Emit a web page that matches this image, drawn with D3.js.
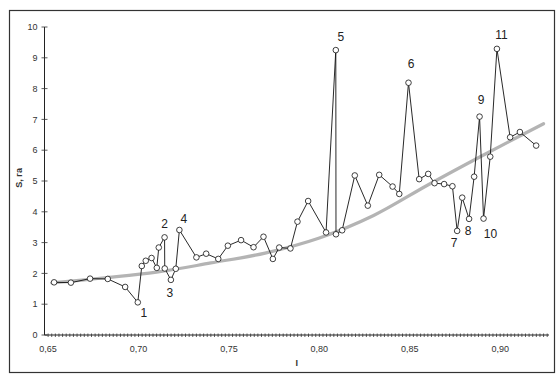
<!DOCTYPE html>
<html>
<head>
<meta charset="utf-8">
<script src="https://cdn.jsdelivr.net/npm/d3@7"></script>
<style>
  body { margin: 0; background: #fff; }
  svg { display: block; font-family: "Liberation Sans", Arial, sans-serif; }
</style>
</head>
<body>
<div id="chart"></div>
<script>
// measured series: I (x) and S, ha (y)
const xValues = [0.6533, 0.6626, 0.6732, 0.6830, 0.6926, 0.6996, 0.7018, 0.7040, 0.7072, 0.7101,
  0.7112, 0.7144, 0.7145, 0.7179, 0.7206, 0.7226, 0.7320, 0.7374, 0.7441, 0.7494,
  0.7567, 0.7636, 0.7691, 0.7743, 0.7778, 0.7840, 0.7879, 0.7938, 0.8037, 0.8091,
  0.8092, 0.8126, 0.8196, 0.8268, 0.8331, 0.8405, 0.8442, 0.8493, 0.8552, 0.8602,
  0.8637, 0.8690, 0.8736, 0.8762, 0.8790, 0.8828, 0.8856, 0.8886, 0.8908, 0.8945,
  0.8982, 0.9055, 0.9109, 0.9199];
const sValues = [1.71, 1.70, 1.83, 1.82, 1.56, 1.06, 2.24, 2.41, 2.50, 2.18,
  2.84, 3.17, 2.16, 1.79, 2.15, 3.41, 2.52, 2.64, 2.47, 2.90,
  3.08, 2.85, 3.19, 2.47, 2.84, 2.81, 3.68, 4.35, 3.33, 9.25,
  3.27, 3.40, 5.18, 4.20, 5.20, 4.82, 4.58, 8.19, 5.06, 5.23,
  4.93, 4.90, 4.83, 3.38, 4.46, 3.77, 5.14, 7.09, 3.78, 5.79,
  9.29, 6.42, 6.59, 6.15];

// trend curve
const trendX = [0.652, 0.68, 0.71, 0.74, 0.77, 0.80, 0.83, 0.86, 0.89, 0.924];
const trendS = [1.69, 1.85, 2.04, 2.34, 2.66, 3.15, 3.88, 4.87, 5.82, 6.86];

// numbered peaks: index into the series, label
const markIndex = [5, 11, 13, 15, 29, 37, 43, 45, 47, 48, 50];
const markText = ['1', '2', '3', '4', '5', '6', '7', '8', '9', '10', '11'];

const xTickValues = [0.65, 0.70, 0.75, 0.80, 0.85, 0.90];
const yTickValues = [0, 1, 2, 3, 4, 5, 6, 7, 8, 9, 10];

const W = 557, H = 376;
const svg = d3.select('#chart').append('svg').attr('width', W).attr('height', H);

// frame
svg.append('rect')
  .attr('x', 9.5).attr('y', 10.5).attr('width', 545).attr('height', 362)
  .attr('fill', 'none').attr('stroke', '#333').attr('stroke-width', 1.2);

const x = d3.scaleLinear().domain([0.648, 0.927]).range([44.5, 549]);
const y = d3.scaleLinear().domain([0, 10]).range([335, 27]);

// x axis with fine ticks
const xAxisG = svg.append('g').attr('transform', `translate(0,${y(0)})`);
xAxisG.append('line')
  .attr('x1', x(0.648)).attr('x2', x(0.927))
  .attr('stroke', '#222').attr('stroke-width', 1);
const minor = d3.range(0.650, 0.9271, 0.002);
xAxisG.selectAll('line.minor').data(minor).join('line')
  .attr('class', 'minor')
  .attr('x1', d => x(d)).attr('x2', d => x(d))
  .attr('y1', -1.5).attr('y2', 2)
  .attr('stroke', '#333').attr('stroke-width', 0.8);
xAxisG.selectAll('text').data(xTickValues).join('text')
  .attr('x', d => x(d)).attr('y', 17)
  .attr('text-anchor', 'middle')
  .attr('font-size', 9).attr('fill', '#333')
  .text(d => d3.format('.2f')(d).replace('.', ','));

// y axis
const yAxisG = svg.append('g').attr('transform', `translate(${x(0.648)},0)`);
yAxisG.append('line')
  .attr('y1', y(0)).attr('y2', y(10))
  .attr('stroke', '#222').attr('stroke-width', 1);
yAxisG.selectAll('line.tick').data(yTickValues).join('line')
  .attr('class', 'tick')
  .attr('x1', -3).attr('x2', 3)
  .attr('y1', d => y(d)).attr('y2', d => y(d))
  .attr('stroke', '#333').attr('stroke-width', 0.8);
yAxisG.selectAll('text').data(yTickValues).join('text')
  .attr('x', -7).attr('y', d => y(d) + 3.2)
  .attr('text-anchor', 'end')
  .attr('font-size', 9).attr('fill', '#333')
  .text(d => d);

// axis titles
svg.append('text')
  .attr('transform', `translate(22,${y(5.1)}) rotate(-90)`)
  .attr('text-anchor', 'middle')
  .attr('font-size', 9).attr('font-weight', 'bold').attr('fill', '#333')
  .text('S, га');
svg.append('text')
  .attr('x', x(0.7875)).attr('y', 366)
  .attr('text-anchor', 'middle')
  .attr('font-size', 9).attr('font-weight', 'bold').attr('fill', '#333')
  .text('I');

// grey trend
const trend = trendX.map((v, i) => [v, trendS[i]]);
svg.append('path')
  .datum(trend)
  .attr('fill', 'none')
  .attr('stroke', '#b4b4b4').attr('stroke-width', 3.2)
  .attr('stroke-linecap', 'round')
  .attr('d', d3.line().x(d => x(d[0])).y(d => y(d[1])).curve(d3.curveCatmullRom));

// series
const pts = xValues.map((v, i) => [v, sValues[i]]);
svg.append('path')
  .datum(pts)
  .attr('fill', 'none')
  .attr('stroke', '#111').attr('stroke-width', 0.9)
  .attr('d', d3.line().x(d => x(d[0])).y(d => y(d[1])));
svg.append('g').selectAll('circle').data(pts).join('circle')
  .attr('cx', d => x(d[0])).attr('cy', d => y(d[1]))
  .attr('r', 2.8)
  .attr('fill', '#fff').attr('stroke', '#111').attr('stroke-width', 0.8);

// peak numbers
const labelOffset = [[6, 15], [0, -9], [-1, 17], [4.5, -7], [5, -9], [2.5, -15],
  [-3, 16], [-1, 16], [1.5, -13], [7, 19], [4.5, -10]];
svg.append('g').selectAll('text').data(markIndex).join('text')
  .attr('x', (d, i) => x(xValues[d]) + labelOffset[i][0])
  .attr('y', (d, i) => y(sValues[d]) + labelOffset[i][1])
  .attr('text-anchor', 'middle')
  .attr('font-size', 12).attr('fill', '#222')
  .text((d, i) => markText[i]);
</script>
</body>
</html>
